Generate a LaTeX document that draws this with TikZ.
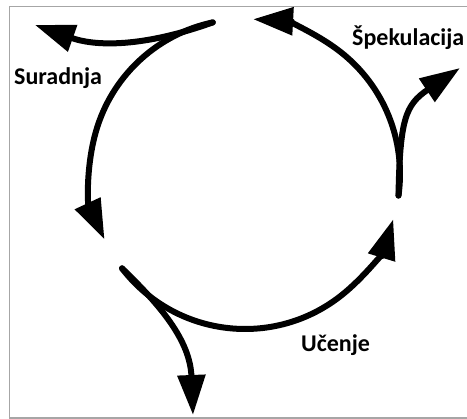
\documentclass[tikz,border=0pt]{standalone}
\usepackage{fontspec}
\setmainfont{Carlito}
\usetikzlibrary{arrows.meta}
\tikzset{>={Triangle[length=40pt,width=27pt]}}
\tikzset{cyc/.style={line width=6pt,line cap=round,->},
         lbl/.style={anchor=base west,inner sep=0pt,font=\fontsize{24}{28}\selectfont\bfseries}}

\begin{document}
\begin{tikzpicture}[x=1pt,y=1pt]
            \useasboundingbox (0,0) rectangle (467,419);
            % Frame
            \draw [black!35,line width=1.5pt] (467,412.5) -- (9.5,412.5) -- (9.5,1) -- (467,1);

            % Cycle
            \coordinate (c) at (245,245);
            \coordinate (s1) at ([shift={(102:155)}]c);
            \coordinate (s2) at ([shift={(217.5:155)}]c);
            \coordinate (s3) at ([shift={(-8:155)}]c);
            \draw [cyc] (s1) arc[start angle=102,end angle=205,radius=155];
            \draw [cyc] (s2) arc[start angle=217.5,end angle=343,radius=155];
            \draw [cyc] (s3) arc[start angle=-8,end angle=87,radius=155];

            % Branches
            \draw [cyc] (s1) .. controls (150,374) and (100,371) .. (35,394) coordinate (t1);
            \draw [cyc] (s3) .. controls (400,299) and (405,314) .. (460,351) coordinate (t3);
            \draw [cyc] (s2) .. controls (160,114) and (190,79) .. (193,4) coordinate (t2);

            \node [lbl] (suradnja) at (14,334) {Suradnja};
            \node [lbl] (spekulacija) at (352,373) {Špekulacija};
            \node [lbl] (ucenje) at (301,67) {Učenje};
        \end{tikzpicture}
\end{document}
